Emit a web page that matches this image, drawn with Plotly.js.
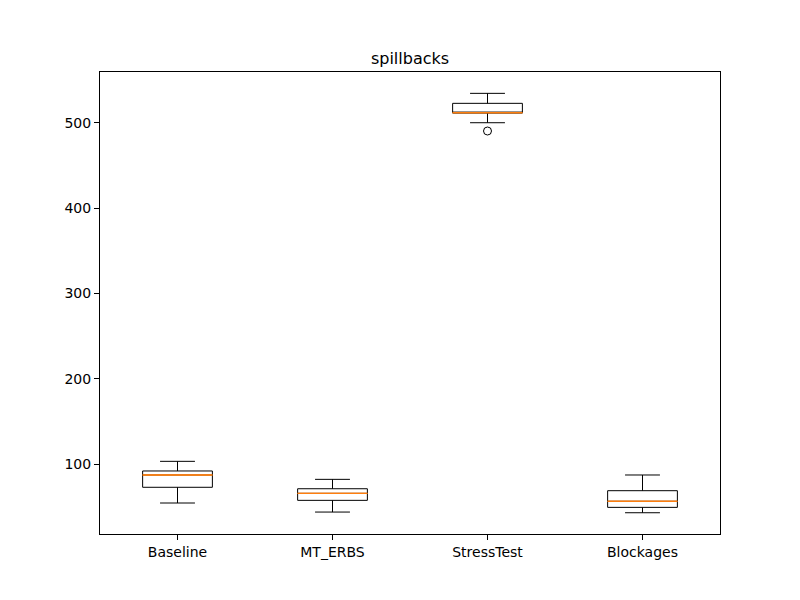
<!DOCTYPE html>
<html>
<head>
<meta charset="utf-8">
<script src="https://cdn.plot.ly/plotly-3.0.1.min.js"></script>
<style>html,body{margin:0;padding:0;background:#fff;}</style>
</head>
<body>
<div id="chart" style="width:800px;height:600px;"></div>
<script>
const categories = ["Baseline", "MT_ERBS", "StressTest", "Blockages"];
const lowerWhisker = [54.7, 44.1, 500.0, 43.3];
const q1Values = [73.1, 57.8, 511.3, 49.6];
const medianValues = [87.5, 66.0, 511.7, 56.7];
const q3Values = [92.2, 71.4, 522.7, 69.1];
const upperWhisker = [103.5, 82.4, 534.4, 87.5];
const outlierCategories = ["StressTest"];
const outlierValues = [490.3];
const yTicks = [100, 200, 300, 400, 500];

const boxTrace = {
  type: "box",
  x: categories,
  q1: q1Values,
  median: medianValues,
  q3: q3Values,
  lowerfence: lowerWhisker,
  upperfence: upperWhisker,
  boxpoints: false,
  width: 0.45,
  whiskerwidth: 0.5,
  line: {color: "#000000", width: 1},
  fillcolor: "rgba(0,0,0,0)",
  hoverinfo: "skip",
  showlegend: false
};
const medianTrace = {
  type: "box",
  x: categories,
  q1: medianValues,
  median: medianValues,
  q3: medianValues,
  lowerfence: medianValues,
  upperfence: medianValues,
  boxpoints: false,
  width: 0.45,
  whiskerwidth: 0,
  line: {color: "#ff7f0e", width: 1},
  fillcolor: "rgba(0,0,0,0)",
  hoverinfo: "skip",
  showlegend: false
};
const outlierTrace = {
  type: "scatter",
  mode: "markers",
  x: outlierCategories,
  y: outlierValues,
  marker: {symbol: "circle-open", size: 8, color: "#000000", line: {width: 1, color: "#000000"}},
  hoverinfo: "skip",
  showlegend: false
};

const layout = {
  width: 800, height: 600,
  paper_bgcolor: "#ffffff", plot_bgcolor: "#ffffff",
  margin: {l: 100, r: 80, t: 72, b: 66, pad: 0},
  font: {family: "DejaVu Sans", size: 14, color: "#000000"},
  title: {text: "spillbacks", font: {family: "DejaVu Sans", size: 16, color: "#000000"},
          x: 0.5125, xanchor: "center", y: 1 - 58/600, yref: "container", yanchor: "middle"},
  boxmode: "overlay",
  xaxis: {
    type: "category", categoryarray: categories, categoryorder: "array",
    range: [-0.5, 3.5],
    showline: true, mirror: true, linecolor: "#000000", linewidth: 1,
    showgrid: false, zeroline: false,
    ticks: "outside", ticklen: 5, tickwidth: 1, tickcolor: "#000000",
    tickfont: {family: "DejaVu Sans", size: 14, color: "#000000"}
  },
  yaxis: {
    range: [18.4, 559.4],
    tickvals: yTicks,
    showline: true, mirror: true, linecolor: "#000000", linewidth: 1,
    showgrid: false, zeroline: false,
    ticks: "outside", ticklen: 5, tickwidth: 1, tickcolor: "#000000",
    tickfont: {family: "DejaVu Sans", size: 14, color: "#000000"}
  }
};

Plotly.newPlot("chart", [boxTrace, medianTrace, outlierTrace], layout, {staticPlot: true, displayModeBar: false});
</script>
</body>
</html>
